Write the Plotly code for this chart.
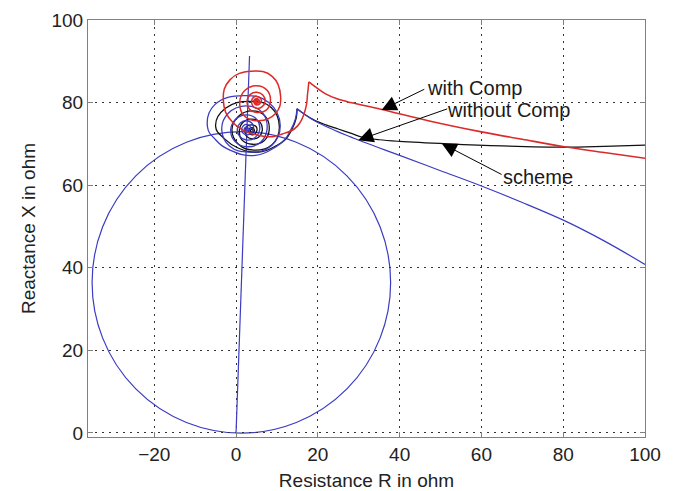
import plotly.graph_objects as go

# ---------------- data ----------------
# relay characteristic: mho circle (centre, radius) and line-angle line
mho_center_R = 1.3
mho_center_X = 36.45
mho_radius = 36.5
line_R = [0.0, 3.3]
line_X = [0.0, 91.3]

# "with Comp" trajectory (red): tail from cusp to the right edge, spiral from cusp inward
red_tail_R = [17.8, 19.4, 21.9, 24.7, 28.0, 35.4, 47.0, 60.0, 70.0, 80.3, 90.0, 100.0]
red_tail_X = [85.0, 83.8, 82.1, 80.9, 80.0, 78.4, 75.6, 72.9, 71.1, 69.3, 67.9, 66.5]
red_sp_R = [17.8, 17.5, 17.0, 15.0, 11.3, 7.0, -0.6, -3.1, -1.5, 3.7, 8.9, 10.9, 9.6, 5.5,
            2.0, 0.9, 2.2, 5.0, 7.6, 8.4, 7.3, 5.1, 3.3, 2.7, 3.5, 5.1, 6.6, 7.1, 6.4, 5.1,
            4.1, 3.8, 4.2, 5.1, 5.9, 6.2, 5.1, 4.3, 5.1, 5.7, 5.1, 4.6, 5.1, 5.4, 5.1, 4.9, 5.1]
red_sp_X = [85.0, 82.2, 78.5, 74.3, 72.4, 71.8, 75.0, 80.5, 85.5, 87.6, 86.3, 81.5, 77.3, 75.6,
            76.8, 80.2, 83.0, 84.1, 83.0, 80.3, 78.1, 77.6, 78.4, 80.3, 82.0, 82.5, 81.8, 80.3, 79.0, 78.6,
            79.2, 80.3, 81.2, 81.5, 81.1, 80.3, 79.4, 80.3, 81.0, 80.3, 79.8, 80.3, 80.7, 80.3, 80.0, 80.3, 80.5]

# "without Comp" trajectory (blue)
blue_tail_R = [14.9, 17.0, 19.0, 22.0, 25.0, 28.0, 31.0, 40.0, 50.0, 60.0, 70.0, 80.3, 90.0, 100.0]
blue_tail_X = [78.5, 77.0, 75.7, 74.2, 72.9, 71.7, 70.5, 67.2, 63.5, 59.8, 55.8, 51.4, 46.5, 40.8]
blue_sp_R = [14.9, 14.5, 13.3, 11.7, 9.6, 4.7, -1.5, -5.0, -7.0, -5.2, 2.0, 8.0, 10.8, 8.7, 3.3,
             -1.6, -3.5, -1.9, 2.5, 6.4, 7.6, 6.0, 2.7, -0.3, -1.3, 0.0, 2.6, 5.0, 5.8, 4.6,
             2.7, 0.9, 0.3, 1.1, 2.6, 3.9, 4.3, 3.7, 2.6, 1.7, 1.4, 1.8, 2.6, 3.3, 3.5,
             2.6, 2.0, 2.6, 3.0, 2.6, 2.4, 2.6, 2.7]
blue_sp_X = [78.5, 76.0, 73.2, 70.8, 69.2, 67.2, 68.5, 71.0, 74.2, 79.5, 81.7, 80.0, 74.5, 69.6, 68.0,
             69.5, 73.5, 77.4, 79.2, 77.6, 73.7, 70.4, 69.3, 70.6, 73.5, 76.0, 77.0, 76.0, 73.6, 71.5,
             70.9, 71.8, 73.6, 75.1, 75.6, 75.0, 73.6, 72.5, 72.2, 72.6, 73.6, 74.4, 74.7, 74.4, 73.6,
             73.0, 73.6, 74.1, 73.6, 73.3, 73.6, 73.8, 73.6]

# "scheme" trajectory (black)
black_tail_R = [14.9, 17.0, 19.0, 22.0, 25.0, 28.0, 31.0, 35.0, 40.0, 51.8, 65.0, 80.3, 90.0, 100.0]
black_tail_X = [78.5, 77.0, 75.8, 74.6, 73.6, 72.6, 71.6, 71.0, 70.6, 70.0, 69.5, 69.2, 69.4, 69.7]
black_sp_R = [14.9, 14.7, 13.6, 12.0, 9.9, 5.5, 0.5, -2.8, -5.0, -2.6, 3.5, 8.6, 10.6, 8.8, 4.3,
              0.6, -1.0, 0.6, 4.0, 7.2, 8.1, 6.8, 4.0, 1.5, 0.8, 1.8, 3.9, 5.9, 6.4, 5.5,
              3.9, 2.6, 2.2, 2.8, 3.9, 4.9, 5.1, 4.6, 3.9, 3.3, 3.1, 3.9, 4.5, 3.9, 3.5, 3.9, 4.1]
black_sp_X = [78.5, 76.2, 73.4, 71.0, 69.6, 68.0, 69.0, 71.2, 74.3, 78.6, 80.3, 78.8, 74.0, 69.8, 68.5,
              69.9, 73.4, 76.7, 78.0, 76.6, 73.3, 70.7, 69.9, 70.9, 73.2, 75.3, 76.0, 75.2, 73.2, 71.6,
              71.2, 71.8, 73.2, 74.3, 74.6, 74.2, 73.2, 72.4, 72.2, 72.5, 73.2, 73.9, 73.2, 72.8, 73.2, 73.5, 73.2]

# annotation labels: text, left-edge position, arrow tail, arrow head
ann_text = ["with Comp", "without Comp", "scheme"]
ann_text_R = [46.3, 51.2, 64.7]
ann_text_X = [83.6, 78.1, 62.0]
ann_tail_R = [46.4, 52.0, 65.3]
ann_tail_X = [83.4, 78.6, 62.4]
ann_head_R = [35.6, 29.9, 50.3]
ann_head_X = [78.2, 70.9, 70.1]

x_ticks = [-20, 0, 20, 40, 60, 80, 100]
y_ticks = [0, 20, 40, 60, 80, 100]

# ---------------- figure ----------------
BLUE = "#3b3bc4"
RED = "#dc2a2a"
BLACK = "#111111"
FONT = "Liberation Sans, Arial, Helvetica, sans-serif"

fig = go.Figure()

def add(R, X, color, width, smooth):
    fig.add_trace(go.Scatter(x=R, y=X, mode="lines",
                             line=dict(color=color, width=width, shape="spline", smoothing=smooth),
                             showlegend=False, hoverinfo="skip"))

fig.add_trace(go.Scatter(x=line_R, y=line_X, mode="lines",
                         line=dict(color=BLUE, width=1.2), showlegend=False, hoverinfo="skip"))
add(black_tail_R, black_tail_X, BLACK, 1.2, 1.0)
add(black_sp_R, black_sp_X, BLACK, 1.3, 1.3)
add(blue_tail_R, blue_tail_X, BLUE, 1.2, 1.0)
add(blue_sp_R, blue_sp_X, BLUE, 1.3, 1.3)
add(red_tail_R, red_tail_X, RED, 1.6, 1.0)
add(red_sp_R, red_sp_X, RED, 1.5, 1.3)

fig.add_shape(type="circle", xref="x", yref="y",
              x0=mho_center_R - mho_radius, x1=mho_center_R + mho_radius,
              y0=mho_center_X - mho_radius, y1=mho_center_X + mho_radius,
              line=dict(color=BLUE, width=1.2), layer="below")

for t, tr, tx, ar, axv, hr, hx in zip(ann_text, ann_text_R, ann_text_X, ann_tail_R, ann_tail_X,
                                     ann_head_R, ann_head_X):
    fig.add_annotation(x=hr, y=hx, ax=ar, ay=axv, axref="x", ayref="y", xref="x", yref="y",
                       text="", showarrow=True, arrowhead=2, arrowsize=3, arrowwidth=1,
                       arrowcolor="black")
    fig.add_annotation(x=tr, y=tx, xref="x", yref="y", text=t, showarrow=False,
                       xanchor="left", yanchor="middle",
                       font=dict(family=FONT, size=20, color="#1a1a1a"))

axis_common = dict(
    showgrid=True, gridcolor="#333333", gridwidth=1, griddash="2px,5px",
    showline=True, linecolor="#808080", linewidth=1, mirror="ticks",
    ticks="inside", ticklen=5, tickcolor="#808080", tickwidth=1,
    zeroline=False, automargin=False,
    tickfont=dict(family=FONT, size=19, color="#222222"),
)

fig.update_xaxes(range=[-36.2, 100], tickvals=x_ticks,
                 title=dict(text="Resistance R in ohm", font=dict(family=FONT, size=19, color="#222222"),
                            standoff=10),
                 **axis_common)
fig.update_yaxes(range=[-1, 100], tickvals=y_ticks,
                 title=dict(text="Reactance X in ohm", font=dict(family=FONT, size=19, color="#222222"),
                            standoff=10),
                 **axis_common)

fig.update_layout(width=678, height=491, margin=dict(l=88, r=33, t=20, b=54),
                  paper_bgcolor="white", plot_bgcolor="white",
                  font=dict(family=FONT))

fig.write_html("out.html")
